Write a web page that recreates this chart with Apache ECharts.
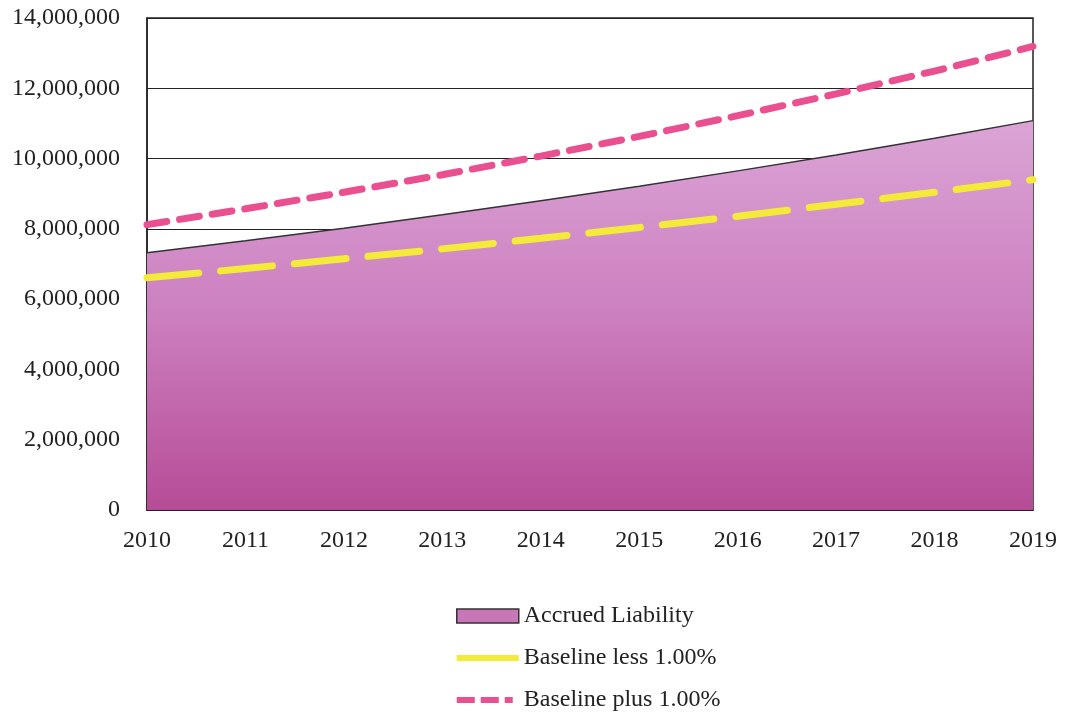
<!DOCTYPE html>
<html><head><meta charset="utf-8">
<script src="https://cdn.jsdelivr.net/npm/echarts@6/dist/echarts.min.js"></script>
<style>html,body{margin:0;padding:0;background:#fff}#c{width:1066px;height:714px}</style>
</head><body><div id="c"></div>
<script>
const years = ['2010','2011','2012','2013','2014','2015','2016','2017','2018','2019'];
const accruedLiability = [7320000, 7660000, 8020000, 8400000, 8800000, 9210000, 9650000, 10100000, 10580000, 11080000];
const baselineLess = [6610000, 6870000, 7150000, 7430000, 7730000, 8040000, 8360000, 8700000, 9040000, 9400000];
const baselinePlus = [8120000, 8570000, 9040000, 9540000, 10070000, 10630000, 11220000, 11840000, 12490000, 13190000];

const font = '"Liberation Serif", "Times New Roman", serif';
const solidIcon = 'path://M0,0h0.01v0.01h-0.01Z M0,4H62V10H0Z M61.99,13.99h0.01v0.01h-0.01Z';
const dashIcon = 'path://M0,0h0.01v0.01h-0.01Z M0,4H18V10H0Z M24,4H42V10H24Z M48,4H56V10H48Z M61.99,13.99h0.01v0.01h-0.01Z';
const chart = echarts.init(document.getElementById('c'));
chart.setOption({
  animation: false,
  backgroundColor: '#fff',
  grid: {left: 147, right: 33, top: 18, bottom: 204, show: true, borderColor: '#222', borderWidth: 1.5},
  xAxis: {
    type: 'category', data: years, boundaryGap: false,
    axisLine: {show: true, lineStyle: {color: '#222', width: 1.5}},
    axisTick: {show: false},
    axisLabel: {color: '#222', fontFamily: font, fontSize: 24, margin: 19}
  },
  yAxis: {
    type: 'value', min: 0, max: 14000000, interval: 2000000,
    axisLine: {show: true, lineStyle: {color: '#222', width: 1.5}},
    axisTick: {show: false},
    splitLine: {lineStyle: {color: '#222', width: 1.2}},
    axisLabel: {color: '#222', fontFamily: font, fontSize: 24, margin: 27,
      formatter: v => v.toLocaleString('en-US')}
  },
  legend: {
    orient: 'vertical', left: 451, top: 599, height: 160,
    itemWidth: 62, itemHeight: 14, itemGap: 18,
    textStyle: {color: '#222', fontFamily: font, fontSize: 24, padding: [0,0,0,0]},
    data: [
      {name: 'Accrued Liability', icon: 'rect', itemStyle: {color: '#c777b8', borderColor: '#333', borderWidth: 1.5}},
      {name: 'Baseline less 1.00%', icon: solidIcon, itemStyle: {color: '#f4ea3a', borderWidth: 0}},
      {name: 'Baseline plus 1.00%', icon: dashIcon, itemStyle: {color: '#ea4f8f', borderWidth: 0}}
    ]
  },
  series: [
    {
      name: 'Accrued Liability', type: 'line', data: accruedLiability,
      symbol: 'none', z: 1,
      lineStyle: {color: '#333', width: 1.5},
      itemStyle: {color: '#c777b8'},
      areaStyle: {opacity: 1, color: new echarts.graphic.LinearGradient(0, 0, 0, 1, [
        {offset: 0, color: '#dba4d6'},
        {offset: 0.5, color: '#cc7fbf'},
        {offset: 1, color: '#b64c97'}
      ], false)}
    },
    {
      name: 'Baseline less 1.00%', type: 'line', data: baselineLess,
      symbol: 'none', z: 3,
      itemStyle: {color: '#f4ea3a'},
      lineStyle: {color: '#f4ea3a', width: 7, type: [52, 22], cap: 'round'}
    },
    {
      name: 'Baseline plus 1.00%', type: 'line', data: baselinePlus,
      symbol: 'none', z: 3,
      itemStyle: {color: '#ea4f8f'},
      lineStyle: {color: '#ea4f8f', width: 7, type: [20, 13], cap: 'round'}
    }
  ]
});
</script></body></html>
